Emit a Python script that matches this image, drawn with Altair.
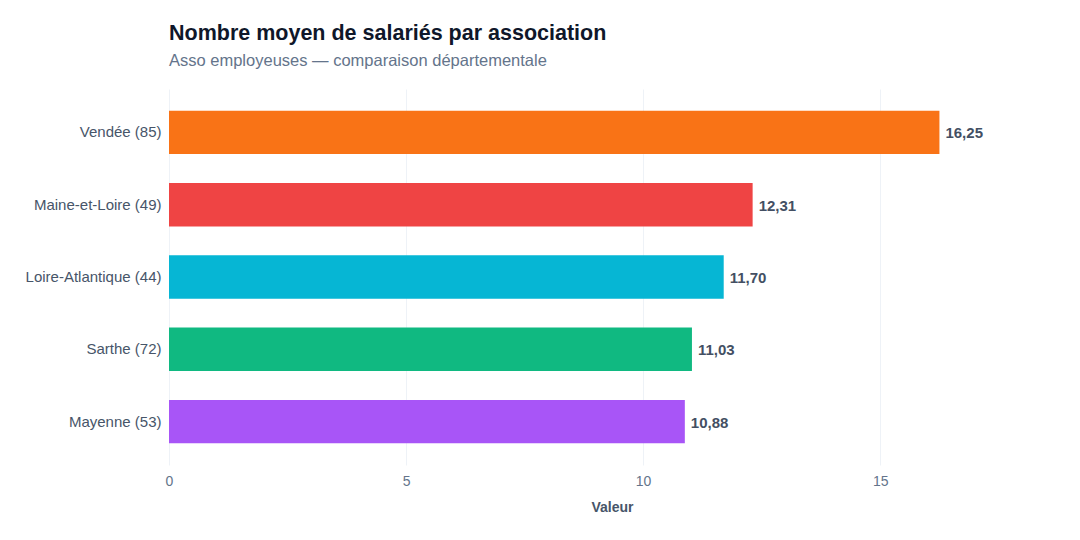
import altair as alt
import pandas as pd

departements = ["Vendée (85)", "Maine-et-Loire (49)", "Loire-Atlantique (44)", "Sarthe (72)", "Mayenne (53)"]
valeurs = [16.25, 12.31, 11.70, 11.03, 10.88]
couleurs = ["#f97316", "#ef4444", "#06b6d4", "#10b981", "#a855f7"]

df = pd.DataFrame({
    "dep": departements,
    "val": valeurs,
    "col": couleurs,
    "lab": [f"{v:.2f}".replace(".", ",") for v in valeurs],
})

FONT = "Liberation Sans"

base = alt.Chart(df).encode(
    y=alt.Y("dep:N", sort=departements, title=None,
            scale=alt.Scale(paddingInner=0.4, paddingOuter=0.3),
            axis=alt.Axis(domain=False, ticks=False, grid=False, labelPadding=8,
                          labelFontSize=15, labelColor="#475569", labelFont=FONT)),
    x=alt.X("val:Q", title="Valeur",
            scale=alt.Scale(domain=[0, 18.6875], nice=False),
            axis=alt.Axis(values=[0, 5, 10, 15], domain=False, ticks=False,
                          gridColor="#eef2f7", gridWidth=1, labelPadding=9,
                          labelFlush=False,
                          labelFontSize=14, labelColor="#64748b", labelFont=FONT,
                          titleFontSize=14, titleColor="#475569", titleFont=FONT,
                          titleFontWeight="bold", titlePadding=12)),
)

bars = base.mark_bar().encode(color=alt.Color("col:N", scale=None, legend=None))
labels = base.mark_text(align="left", baseline="middle", dx=6, dy=1, fontSize=15,
                        fontWeight="bold", color="#434f63", font=FONT).encode(text="lab:N")

chart = (bars + labels).properties(
    width=886, height=376,
    autosize=alt.AutoSizeParams(type="none"),
    padding={"left": 169, "top": 89, "right": 25, "bottom": 75},
    background="white",
    title=alt.TitleParams(
        text="Nombre moyen de salariés par association",
        subtitle="Asso employeuses — comparaison départementale",
        anchor="start", frame="group", offset=20,
        font=FONT, fontSize=21.5, fontWeight="bold", color="#0f172a",
        subtitleFont=FONT, subtitleFontSize=16.5, subtitleColor="#64748b",
        subtitlePadding=8,
    ),
).configure_view(strokeWidth=0, stroke="transparent")

chart.save("out.html", embed_options={"renderer": "svg", "actions": False})
